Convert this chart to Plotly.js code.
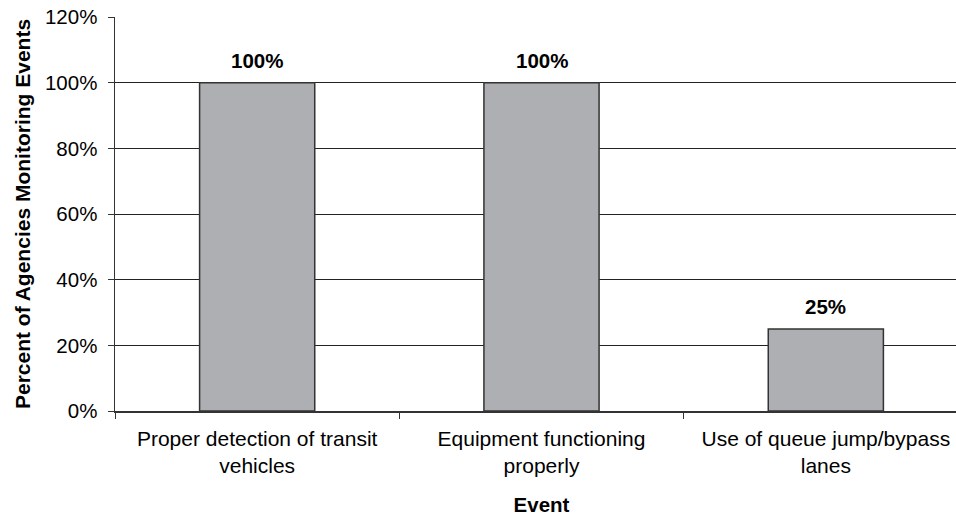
<!DOCTYPE html>
<html>
<head>
<meta charset="utf-8">
<script src="https://cdn.plot.ly/plotly-3.0.1.min.js"></script>
<style>
html, body { margin: 0; padding: 0; overflow: hidden; background: #fff; width: 956px; height: 516px; }
#chart { width: 968px; height: 516px; }
</style>
</head>
<body>
<div id="chart"></div>
<script>
// Data
const categories = [
  'Proper detection of transit<br>vehicles',
  'Equipment functioning<br>properly',
  'Use of queue jump/bypass<br>lanes'
];
const percentMonitoring = [100, 100, 25];
const yTickValues = [0, 20, 40, 60, 80, 100, 120];
const yTickLabels = ['0%', '20%', '40%', '60%', '80%', '100%', '120%'];
const barLabels = percentMonitoring.map(v => v + '%');

const FONT = 'Liberation Sans, Arial, Helvetica, sans-serif';

const trace = {
  type: 'bar',
  x: categories,
  y: percentMonitoring,
  width: 0.405,
  marker: { color: '#AEAFB2', line: { color: '#333333', width: 1.5 } },
  hoverinfo: 'skip'
};

const annotations = categories.map((c, i) => ({
  x: c, y: percentMonitoring[i], xref: 'x', yref: 'y',
  text: barLabels[i], showarrow: false,
  yanchor: 'bottom', yshift: 9,
  font: { family: FONT, size: 20.5, color: '#000', weight: 700 }
}));

const layout = {
  width: 968, height: 516,
  margin: { l: 115, r: 0, t: 17, b: 105, pad: 0 },
  paper_bgcolor: '#fff', plot_bgcolor: '#fff',
  showlegend: false,
  bargap: 0,
  xaxis: {
    type: 'category',
    range: [-0.5, 2.5],
    tickson: 'boundaries',
    ticks: 'outside', ticklen: 6, tickcolor: '#333', tickwidth: 1,
    showline: true, linecolor: '#333', linewidth: 1.5,
    showgrid: false,
    tickfont: { family: FONT, size: 21, color: '#000' },
    ticklabelstandoff: 8,
    title: { text: 'Event', font: { family: FONT, size: 20.5, color: '#000', weight: 700 }, standoff: 25 },
    fixedrange: true
  },
  yaxis: {
    range: [0, 120],
    tickmode: 'array', tickvals: yTickValues, ticktext: yTickLabels,
    ticks: 'outside', ticklen: 6, tickcolor: '#333', tickwidth: 1,
    showline: true, linecolor: '#333', linewidth: 1.5,
    showgrid: true, gridcolor: '#222', gridwidth: 1,
    zeroline: false,
    tickfont: { family: FONT, size: 20.5, color: '#000' },
    ticklabelstandoff: 6,
    title: { text: 'Percent of Agencies Monitoring Events', font: { family: FONT, size: 21, color: '#000', weight: 700 }, standoff: 8 },
    fixedrange: true
  },
  annotations: annotations
};

Plotly.newPlot('chart', [trace], layout, { displayModeBar: false, staticPlot: true });
</script>
</body>
</html>
